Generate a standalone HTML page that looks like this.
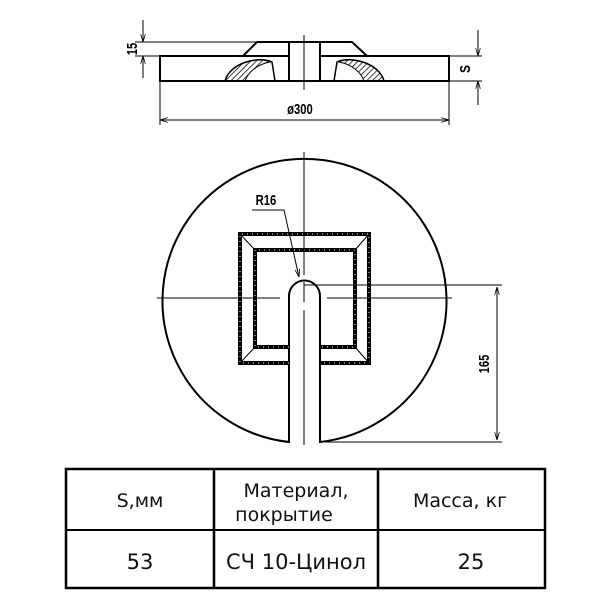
<!DOCTYPE html>
<html><head><meta charset="utf-8"><style>
html,body{margin:0;padding:0;background:#fff;}
svg{display:block}
</style></head><body>
<svg width="600" height="600" viewBox="0 0 600 600" xmlns="http://www.w3.org/2000/svg" font-family="Liberation Sans, DejaVu Sans, sans-serif">
<defs>
<pattern id="h" width="4" height="4" patternUnits="userSpaceOnUse" patternTransform="rotate(45)">
<line x1="0" y1="0" x2="0" y2="4" stroke="#000" stroke-width="1.5"/>
</pattern>
<marker id="a" viewBox="0 0 10 6" refX="10" refY="3" markerWidth="8" markerHeight="5" orient="auto-start-reverse"><path d="M0,0 L10,3 L0,6" fill="none" stroke="#000" stroke-width="1"/></marker>
</defs>
<g stroke="#000" fill="none">
<!-- side view -->
<rect x="160" y="56" width="289" height="25" stroke-width="2"/>
<polyline points="243,56 257,42 352,42 367,56" stroke-width="2"/>
<rect x="289" y="42" width="31" height="39" fill="#fff" stroke-width="2"/>
<line x1="304" y1="35" x2="304" y2="90" stroke-width="1"/>
<path d="M225,81 C230,62 260,56 272,62 L275,81" stroke-width="1.5"/>
<path d="M384,81 C379,62 349,56 337,62 L334,81" stroke-width="1.5"/>
<path d="M225,81 C230,62 260,56 270,62 C258,64 248,72 245,81Z" fill="url(#h)" stroke-width="1"/>
<path d="M384,81 C379,62 349,56 339,62 C351,64 361,72 364,81Z" fill="url(#h)" stroke-width="1"/>
<!-- 15 dim -->
<line x1="135" y1="42" x2="257" y2="42" stroke-width="1"/>
<line x1="135" y1="56" x2="160" y2="56" stroke-width="1"/>
<line x1="143" y1="20" x2="143" y2="42" stroke-width="1" marker-end="url(#a)"/>
<line x1="143" y1="78" x2="143" y2="56" stroke-width="1" marker-end="url(#a)"/>
<!-- S dim -->
<line x1="449" y1="56" x2="482" y2="56" stroke-width="1"/>
<line x1="449" y1="81" x2="482" y2="81" stroke-width="1"/>
<line x1="478" y1="30" x2="478" y2="56" stroke-width="1" marker-end="url(#a)"/>
<line x1="478" y1="105" x2="478" y2="81" stroke-width="1" marker-end="url(#a)"/>
<!-- 300 dim -->
<line x1="160" y1="81" x2="160" y2="125" stroke-width="1"/>
<line x1="449" y1="81" x2="449" y2="125" stroke-width="1"/>
<line x1="160" y1="120" x2="449" y2="120" stroke-width="1" marker-start="url(#a)" marker-end="url(#a)"/>
<!-- top view circle with slot -->
<path d="M289,442 A142,142 0 1 1 320,442 L320,296 A15.5,15.5 0 0 0 289,296 Z" stroke-width="2" fill="none"/>
<!-- squares -->
<path d="M289,363 H240 V234 H369 V363 H320" stroke-width="4"/>
<path d="M289,347 H255 V250 H355 V347 H320" stroke-width="4"/>
<path d="M289,363 H240 V234 H369 V363 H320" stroke="#fff" stroke-width="1" stroke-dasharray="1,4"/>
<path d="M289,347 H255 V250 H355 V347 H320" stroke="#fff" stroke-width="1" stroke-dasharray="1,4"/>
<line x1="240" y1="234" x2="255" y2="250" stroke-width="1"/>
<line x1="369" y1="234" x2="355" y2="250" stroke-width="1"/>
<line x1="369" y1="363" x2="355" y2="347" stroke-width="1"/>
<line x1="240" y1="363" x2="255" y2="347" stroke-width="1"/>
<!-- axes -->
<line x1="304" y1="152" x2="304" y2="275" stroke-width="1"/>
<line x1="304" y1="282" x2="304" y2="302" stroke-width="1"/>
<line x1="304" y1="310" x2="304" y2="445" stroke-width="1"/>
<line x1="157" y1="298" x2="280" y2="298" stroke-width="1"/>
<line x1="327" y1="298" x2="452" y2="298" stroke-width="1"/>
<!-- R16 leader -->
<polyline points="252,210 284,210 299,277" stroke-width="1" marker-end="url(#a)"/>
<!-- 165 dim -->
<line x1="304" y1="285" x2="502" y2="285" stroke-width="1"/>
<line x1="320" y1="442" x2="502" y2="442" stroke-width="1"/>
<line x1="497" y1="287" x2="497" y2="440" stroke-width="1" marker-start="url(#a)" marker-end="url(#a)"/>
<!-- table -->
<rect x="66" y="469" width="479" height="119" stroke-width="2.5"/>
<line x1="66" y1="530" x2="545" y2="530" stroke-width="2"/>
<line x1="214" y1="469" x2="214" y2="588" stroke-width="2.5"/>
<line x1="378" y1="469" x2="378" y2="588" stroke-width="2.5"/>
</g>
<g fill="#000" font-weight="bold" font-family="Liberation Sans Narrow, Liberation Sans, sans-serif">
<text x="300" y="114" font-size="15" text-anchor="middle" transform="translate(300,0) scale(0.75,1) translate(-300,0)">ø300</text>
<text x="266" y="205" font-size="15" text-anchor="middle" transform="translate(266,0) scale(0.75,1) translate(-266,0)">R16</text>
<text transform="translate(137,49) rotate(-90) scale(0.75,1)" font-size="15" text-anchor="middle">15</text>
<text transform="translate(470,69) rotate(-90) scale(0.8,1)" font-size="15" text-anchor="middle">S</text>
<text transform="translate(489,364) rotate(-90) scale(0.75,1)" font-size="15" text-anchor="middle">165</text>
</g>
<g fill="#111" font-size="19" text-anchor="middle" font-family="DejaVu Sans, Liberation Sans, sans-serif">
<text x="140" y="507">S,мм</text>
<text x="296" y="497">Материал,</text>
<text x="284" y="521">покрытие</text>
<text x="460" y="507">Масса, кг</text>
<text x="140" y="569" font-size="21">53</text>
<text x="296" y="569" font-size="21">СЧ 10-Цинол</text>
<text x="471" y="569" font-size="21">25</text>
</g>
</svg>
</body></html>
